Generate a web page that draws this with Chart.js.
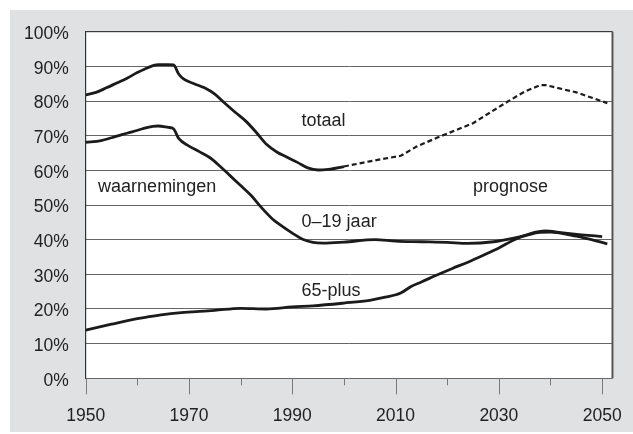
<!DOCTYPE html>
<html><head><meta charset="utf-8">
<script src="https://cdn.jsdelivr.net/npm/chart.js@4.4.0/dist/chart.umd.min.js"></script>
<style>
html,body{margin:0;padding:0;background:#fff;width:633px;height:434px;overflow:hidden}
#wrap{position:absolute;left:10px;top:10px;width:623px;height:422px;background:#e0e1e3}
canvas{display:block}
</style></head><body>
<div id="wrap"><canvas id="c" width="623" height="422"></canvas></div>
<script>
// ---- data ----
const totaalObsYears  = [1950,1952,1954,1956,1958,1960,1962,1964,1966,1967,1968,1969,1971,1973,1975,1977,1979,1981,1983,1985,1987,1989,1991,1993,1995,1997,2000];
const totaalObsValues = [81.8,82.5,83.8,85.2,86.6,88.2,89.6,90.5,90.5,90.4,87.8,86.3,85.0,83.8,82.0,79.3,76.7,74.2,71.0,67.5,65.3,63.8,62.3,60.7,60.1,60.3,61.1];

const totaalProgYears  = [2000,2005,2011,2014,2018,2022,2025,2028,2032,2035,2038,2039,2045,2051];
const totaalProgValues = [61.1,62.6,64.2,66.8,69.4,71.8,73.6,76.4,80.1,82.7,84.6,84.6,82.5,79.4];

const jongYears  = [1950,1953,1955,1957,1959,1961,1963,1964,1966,1967,1968,1970,1972,1974,1976,1978,1980,1982,1984,1986,1988,1990,1992,1994,1996,2000,2006,2010,2015,2020,2024,2029,2034,2038,2040,2045,2051];
const jongValues = [68.1,68.6,69.4,70.3,71.1,72.0,72.7,72.8,72.4,72.0,69.2,67.0,65.4,63.7,61.2,58.4,55.6,52.8,49.3,46.2,43.9,41.9,40.1,39.2,39.0,39.3,40.0,39.6,39.4,39.2,38.9,39.4,40.8,42.1,42.2,41.0,38.8];

const oudYears  = [1950,1955,1960,1962,1965,1968,1972,1975,1980,1985,1990,1994,2000,2005,2008,2011,2013,2015,2018,2021,2024,2027,2030,2033,2036,2039,2042,2046,2050];
const oudValues = [13.9,15.6,17.2,17.7,18.4,18.9,19.3,19.6,20.2,20.0,20.6,20.9,21.7,22.5,23.4,24.6,26.5,27.8,29.8,31.7,33.5,35.5,37.6,40.0,41.7,42.5,42.0,41.4,40.9];

const xTickYears  = [1950,1960,1970,1980,1990,2000,2010,2020,2030,2040,2050];
const xLabelYears = [1950,1970,1990,2010,2030,2050];
const yTickValues = [0,10,20,30,40,50,60,70,80,90,100];

const annotations = [
  {text:'totaal',        year:1991.8, value:72.8},
  {text:'0–19 jaar',     year:1991.8, value:43.7},
  {text:'65-plus',       year:1991.8, value:23.7},
  {text:'waarnemingen',  year:1952.4, value:53.8},
  {text:'prognose',      year:2025.0, value:53.8}
];

const pts = (xs, ys) => xs.map((x,i)=>({x:x, y:ys[i]}));
const FONT = '"Liberation Sans", Arial, sans-serif';
const LINE = '#1b1b1b';

const plotBg = {
  id:'plotBg',
  beforeDraw(chart){
    const {ctx, chartArea:a} = chart;
    ctx.save(); ctx.fillStyle='#ffffff';
    ctx.fillRect(a.left, a.top, a.right-a.left, a.bottom-a.top);
    ctx.restore();
  },
  afterDraw(chart){
    const {ctx, chartArea:a, scales} = chart;
    ctx.save();
    ctx.strokeStyle='#333'; ctx.lineWidth=1;
    ctx.beginPath();
    ctx.moveTo(a.left, a.bottom); ctx.lineTo(a.left, a.top); ctx.lineTo(a.right, a.top);
    ctx.stroke();
    ctx.strokeStyle='#555'; ctx.lineWidth=2;
    ctx.beginPath(); ctx.moveTo(a.right, a.top); ctx.lineTo(a.right, a.bottom); ctx.stroke();
    // x tick marks
    const xs = scales.x;
    ctx.strokeStyle='#7a7a7a'; ctx.lineWidth=1;
    xTickYears.forEach(v=>{
      const px = Math.round(xs.getPixelForValue(v))+0.5;
      const len = xLabelYears.includes(v) ? 16 : 7;
      ctx.beginPath(); ctx.moveTo(px, a.bottom); ctx.lineTo(px, a.bottom+len); ctx.stroke();
    });
    // annotations
    ctx.fillStyle='#222'; ctx.font='18px '+FONT; ctx.textAlign='left'; ctx.textBaseline='alphabetic';
    annotations.forEach(an=>{
      ctx.fillText(an.text, scales.x.getPixelForValue(an.year), scales.y.getPixelForValue(an.value));
    });
    ctx.restore();
  }
};

new Chart(document.getElementById('c'), {
  type:'line',
  data:{
    datasets:[
      {label:'totaal', data:pts(totaalObsYears,totaalObsValues), borderColor:LINE, borderWidth:2.8, pointRadius:0, cubicInterpolationMode:'monotone', fill:false},
      {label:'totaal prognose', data:pts(totaalProgYears,totaalProgValues), borderColor:LINE, borderWidth:2.2, borderDash:[5,3], pointRadius:0, tension:0, fill:false},
      {label:'0–19 jaar', data:pts(jongYears,jongValues), borderColor:LINE, borderWidth:2.8, pointRadius:0, cubicInterpolationMode:'monotone', fill:false},
      {label:'65-plus', data:pts(oudYears,oudValues), borderColor:LINE, borderWidth:2.8, pointRadius:0, cubicInterpolationMode:'monotone', fill:false}
    ]
  },
  options:{
    responsive:false, animation:false, devicePixelRatio:1,
    layout:{padding:{top:21.7, right:20, left:0, bottom:0}},
    plugins:{legend:{display:false}, tooltip:{enabled:false}},
    scales:{
      x:{
        type:'linear', min:1950, max:2052,
        afterBuildTicks(s){ s.ticks = xTickYears.map(v=>({value:v})); },
        afterFit(s){ s.height = 53.7; },
        ticks:{autoSkip:false, maxRotation:0, padding:11, color:'#222',
          font:{family:FONT, size:17.5},
          callback:(v)=> xLabelYears.includes(v) ? String(v) : ''},
        grid:{drawOnChartArea:false, drawTicks:true, tickLength:16, color:'rgba(0,0,0,0)'},
        border:{display:false}
      },
      y:{
        min:0, max:100,
        afterBuildTicks(s){ s.ticks = yTickValues.map(v=>({value:v})); },
        afterFit(s){ s.width = 75.7; s.paddingTop = 0; s.paddingBottom = 0; },
        ticks:{padding:17, labelOffset:2.5, color:'#222',
          font:{family:FONT, size:17.5},
          callback:(v)=> v+'%'},
        grid:{color:'#666', lineWidth:1, drawTicks:false},
        border:{display:true, color:'#333'}
      }
    }
  },
  plugins:[plotBg]
});
</script></body></html>
